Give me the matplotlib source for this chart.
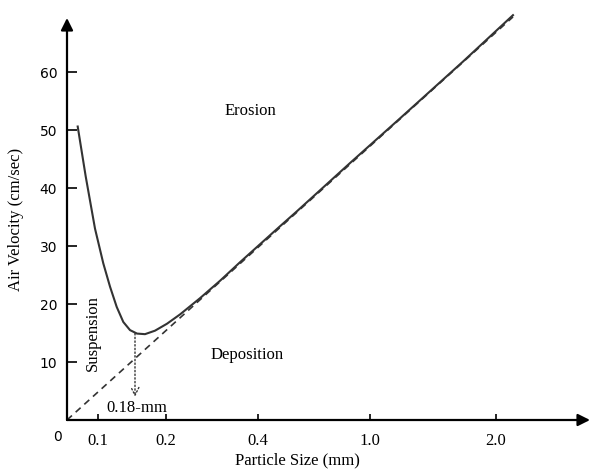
import matplotlib.pyplot as plt

# ==========================================================
# Data (x in axis position units, y in cm/sec)
# ==========================================================

X_TICK_POS = [31, 99, 191, 303, 429]
X_TICK_LABELS = ["0.1", "0.2", "0.4", "1.0", "2.0"]
Y_TICKS = [10, 20, 30, 40, 50, 60]

CURVE_X = [10.7, 18.7, 28, 36.3, 43, 49.7, 56.3, 63, 70, 78, 88, 100, 113,
           133, 153, 173, 193, 213, 230, 283, 333, 396, 446]
CURVE_Y = [50.6, 42.0, 33.0, 27.0, 23.0, 19.5, 16.9, 15.5, 14.9, 14.8, 15.4,
           16.6, 18.2, 21.0, 24.0, 27.2, 30.3, 33.4, 36.0, 44.3, 52.0, 61.8,
           69.8]

THRESHOLD_X = [0, 446]
THRESHOLD_Y = [0, 69.5]

MIN_X = 68
MIN_Y = 14.9

# ==========================================================
# Plot
# ==========================================================

plt.rcParams["font.family"] = ["Liberation Serif", "DejaVu Serif"]

fig = plt.figure(figsize=(5.92, 4.69), dpi=100)
ax = fig.add_axes([67 / 592, 49 / 469, 525 / 592, 412 / 469])
ax.set_xlim(0, 525)
ax.set_ylim(0, 412 / 5.8)

for s in ax.spines.values():
    s.set_visible(False)

# axes with arrow heads
arrow = dict(arrowstyle="-|>", color="black", lw=1.6, mutation_scale=18,
             shrinkA=0, shrinkB=0)
ax.annotate("", xy=(523, 0), xytext=(0, 0), arrowprops=arrow,
            annotation_clip=False)
ax.annotate("", xy=(0, 402 / 5.8), xytext=(0, 0), arrowprops=arrow,
            annotation_clip=False)

ax.plot(CURVE_X, CURVE_Y, color="#333333", lw=1.5, clip_on=False,
        solid_joinstyle="round")
ax.plot(THRESHOLD_X, THRESHOLD_Y, color="#333333", lw=1.2,
        linestyle=(0, (4, 3)), clip_on=False)

# dotted arrow at the minimum
ax.annotate("", xy=(MIN_X, 4.0), xytext=(MIN_X, MIN_Y),
            arrowprops=dict(arrowstyle="->", color="#333333", lw=1.0,
                            linestyle=":", shrinkA=0, shrinkB=0,
                            mutation_scale=14))

ax.set_xticks(X_TICK_POS, X_TICK_LABELS, fontsize=12)
ax.set_yticks(Y_TICKS, [str(v) for v in Y_TICKS], fontsize=10,
              fontfamily="DejaVu Sans")
ax.tick_params(axis="x", direction="in", length=4, width=1.2, pad=9)
ax.tick_params(axis="y", direction="in", length=7, width=1.2, pad=7)

ax.text(-10, -3, "0", ha="center", va="center", fontsize=10,
        fontfamily="DejaVu Sans")

ax.text(183, 53.3, "Erosion", ha="center", va="center", fontsize=12)
ax.text(180, 11.2, "Deposition", ha="center", va="center", fontsize=12)
ax.text(26, 15.0, "Suspension", ha="center", va="center", fontsize=12,
        rotation=90)
ax.text(70, 2.1, "0.18-mm", ha="center", va="center", fontsize=12)

fig.text(297 / 592, 1 - 460 / 469, "Particle Size (mm)", ha="center",
         va="center", fontsize=12)
fig.text(16 / 592, 1 - 219 / 469, "Air Velocity (cm/sec)", ha="center",
         va="center", fontsize=12, rotation=90)

fig.savefig("out.png", dpi=100)
